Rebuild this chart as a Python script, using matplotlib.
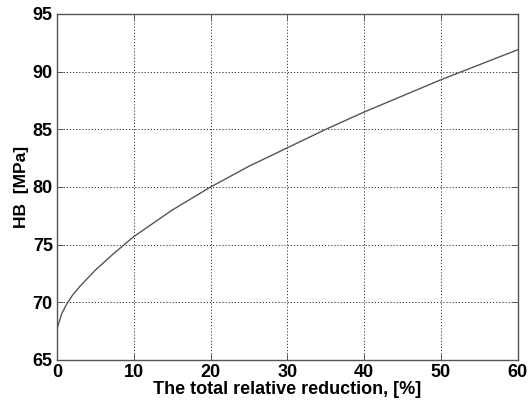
import matplotlib
matplotlib.use("Agg")
import matplotlib.pyplot as plt

# values
reduction = [0, 0.6, 1.3, 2, 3, 4, 5, 7.5, 10, 15, 20, 25, 30, 35, 40, 45, 50, 55, 60]
hardness = [67.7, 69.0, 69.9, 70.6, 71.4, 72.1, 72.8, 74.3, 75.7, 78.0, 80.0, 81.8, 83.4,
            85.0, 86.5, 87.9, 89.3, 90.6, 91.9]

x_ticks = [0, 10, 20, 30, 40, 50, 60]
y_ticks = [65, 70, 75, 80, 85, 90, 95]

plt.rcParams['font.family'] = ['Liberation Sans', 'DejaVu Sans']
plt.rcParams['font.weight'] = 'bold'

fig = plt.figure(figsize=(5.29, 4.03), dpi=100)
ax = fig.add_axes([0.1078, 0.1067, 0.8709, 0.8586])

ax.plot(reduction, hardness, color='#555555', lw=1.0)

ax.set_xlim(0, 60)
ax.set_ylim(65, 95)
ax.set_xticks(x_ticks)
ax.set_yticks(y_ticks)
ax.tick_params(direction='in', top=True, right=True, length=4, width=0.6,
               labelsize=13, pad=3, color='#444444')
for lbl in ax.get_xticklabels() + ax.get_yticklabels():
    lbl.set_fontweight('bold')

ax.grid(True, color='#333333', linestyle=(0, (1.2, 2)), linewidth=0.7)
for sp in ax.spines.values():
    sp.set_color('#555555')
    sp.set_linewidth(1.0)

ax.set_xlabel('The total relative reduction, [%]', fontsize=13, fontweight='bold', labelpad=0)
ax.set_ylabel('HB  [MPa]', fontsize=12.5, fontweight='bold', labelpad=3)

fig.savefig('out.png', dpi=100)
